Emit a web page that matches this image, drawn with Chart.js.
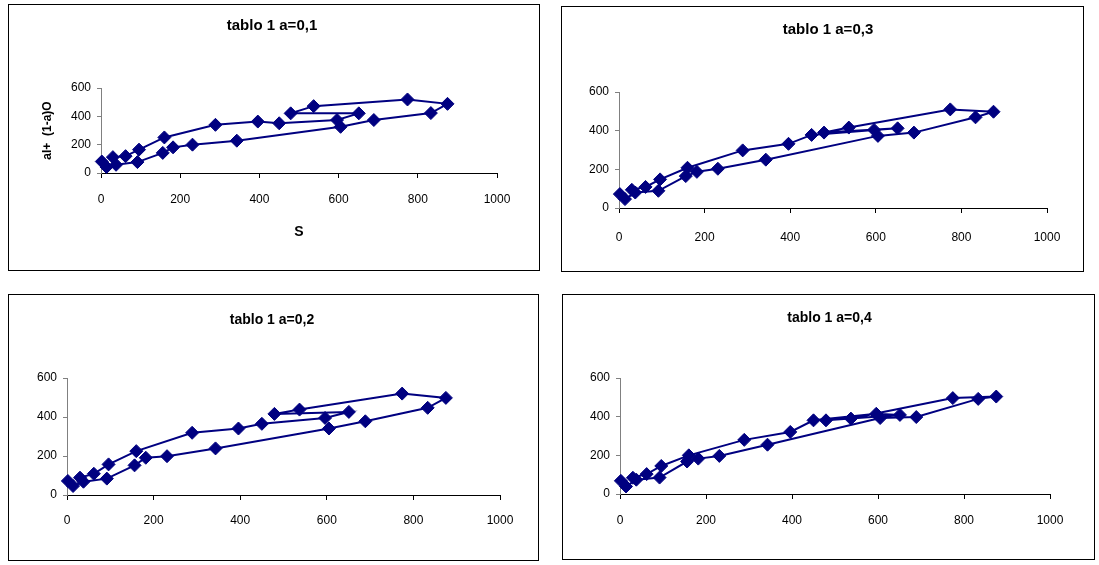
<!DOCTYPE html>
<html>
<head>
<meta charset="utf-8">
<script src="https://cdn.jsdelivr.net/npm/chart.js@4.4.1/dist/chart.umd.min.js"></script>
<style>
  html, body { margin: 0; padding: 0; background: #fff; }
  body { width: 1099px; height: 565px; position: relative; overflow: hidden; }
  .box { position: absolute; border: 1px solid #000; box-sizing: border-box; }
  .box canvas { position: absolute; left: 0; top: 0; }
</style>
</head>
<body>
<div class="box" id="b1"><canvas id="c1"></canvas></div>
<div class="box" id="b2"><canvas id="c2"></canvas></div>
<div class="box" id="b3"><canvas id="c3"></canvas></div>
<div class="box" id="b4"><canvas id="c4"></canvas></div>
<script>
// storage S, in the order of the table rows
const storageS = [2, 14, 38, 92, 156, 182, 231, 343, 605, 689, 833, 875, 774, 537, 479, 651, 596, 450, 396, 289, 160, 96, 62, 30];

// weighted flow aI + (1-a)O for each a
const flowA01 = [81, 42, 58, 77, 142, 181, 200, 228, 326, 374, 423, 488, 519, 472, 421, 421, 374, 351, 363, 340, 251, 165, 119, 112];
const flowA02 = [72, 46, 68, 84, 152, 191, 199, 239, 341, 378, 447, 498, 520, 438, 416, 426, 395, 365, 341, 319, 225, 157, 109, 89];
const flowA03 = [72, 46, 80, 89, 165, 187, 203, 250, 373, 390, 469, 498, 510, 416, 390, 412, 404, 378, 332, 298, 208, 148, 109, 94];
const flowA04 = [68, 39, 74, 85, 168, 183, 197, 255, 393, 398, 492, 504, 496, 390, 381, 409, 415, 381, 321, 280, 200, 145, 103, 84];

const titles = ['tablo 1 a=0,1', 'tablo 1 a=0,3', 'tablo 1 a=0,2', 'tablo 1 a=0,4'];
const xTickLabels = [0, 200, 400, 600, 800, 1000];
const yTickLabels = [0, 200, 400, 600];

const navy = '#000080';
const font = 'Liberation Sans, Arial, sans-serif';

// box placement and inner layout for each panel
// rW: empty right-hand space so the title sits centred on the box like in Excel
const panels = [
  { id: 1, flow: flowA01, title: titles[0], box: [8, 4, 532, 267], padL: 38, padR: 42, yW: 54, rW: 0, xH: 97,
    tSize: 15, tTop: 12, tBot: 53, xPad: 14, axisTitles: true },
  { id: 2, flow: flowA03, title: titles[1], box: [561, 6, 523, 266], padL: 25, padR: 14, yW: 32, rW: 22, xH: 63,
    tSize: 15, tTop: 14, tBot: 53, xPad: 17 },
  { id: 3, flow: flowA02, title: titles[2], box: [8, 294, 531, 267], padL: 26, padR: 29, yW: 32, rW: 9, xH: 65,
    tSize: 14, tTop: 16.6, tBot: 49.6, xPad: 13 },
  { id: 4, flow: flowA04, title: titles[3], box: [562, 294, 533, 266], padL: 25, padR: 23, yW: 32, rW: 21, xH: 65,
    tSize: 14, tTop: 14.6, tBot: 51.6, xPad: 14 }
];

panels.forEach(p => {
  const div = document.getElementById('b' + p.id);
  div.style.left = p.box[0] + 'px';
  div.style.top = p.box[1] + 'px';
  div.style.width = p.box[2] + 'px';
  div.style.height = p.box[3] + 'px';
  const canvas = document.getElementById('c' + p.id);
  canvas.width = p.box[2] - 2;
  canvas.height = p.box[3] - 2;

  new Chart(canvas, {
    type: 'scatter',
    data: {
      datasets: [{
        data: storageS.map((s, i) => ({ x: s, y: p.flow[i] })),
        showLine: true,
        borderColor: navy,
        backgroundColor: navy,
        borderWidth: 2,
        pointStyle: 'rectRot',
        pointRadius: 6.5,
        pointBorderWidth: 1,
        pointBorderColor: navy,
        pointBackgroundColor: navy,
        clip: false
      }]
    },
    options: {
      responsive: false,
      animation: false,
      layout: { padding: { left: p.padL, right: p.padR, top: 0, bottom: 0 } },
      plugins: {
        legend: { display: false },
        tooltip: { enabled: false },
        title: {
          display: true,
          text: p.title,
          color: '#000',
          font: { family: font, size: p.tSize, weight: 'bold' },
          padding: { top: p.tTop, bottom: p.tBot }
        }
      },
      scales: {
        x: {
          type: 'linear',
          min: xTickLabels[0],
          max: xTickLabels[xTickLabels.length - 1],
          afterBuildTicks: s => { s.ticks = xTickLabels.map(v => ({ value: v })); },
          afterFit: s => { s.height = p.xH; },
          ticks: { color: '#000', padding: p.xPad, font: { family: font, size: 12 }, callback: v => String(v) },
          grid: { drawOnChartArea: false, color: '#000', tickLength: 5 },
          border: { color: '#000', width: 1 },
          title: {
            display: !!p.axisTitles,
            text: 'S',
            color: '#000',
            font: { family: font, size: 14, weight: 'bold' },
            padding: { top: 0, bottom: 29.6 }
          }
        },
        y: {
          type: 'linear',
          min: yTickLabels[0],
          max: yTickLabels[yTickLabels.length - 1],
          afterBuildTicks: s => { s.ticks = yTickLabels.map(v => ({ value: v })); },
          afterFit: s => { s.width = p.yW; },
          ticks: { color: '#000', padding: 6, font: { family: font, size: 12 }, callback: v => String(v) },
          grid: { drawOnChartArea: false, color: '#808080', tickLength: 4 },
          border: { color: '#808080', width: 1 },
          title: {
            display: !!p.axisTitles,
            text: 'aI+  (1-a)O',
            color: '#000',
            font: { family: font, size: 12, weight: 'bold' },
            padding: { top: -6.2, bottom: 0 }
          }
        },
        spacer: {
          type: 'linear',
          position: 'right',
          min: 0,
          max: 1,
          afterFit: s => { s.width = p.rW; },
          ticks: { display: false },
          grid: { display: false },
          border: { display: false }
        }
      }
    }
  });
});
</script>
</body>
</html>
